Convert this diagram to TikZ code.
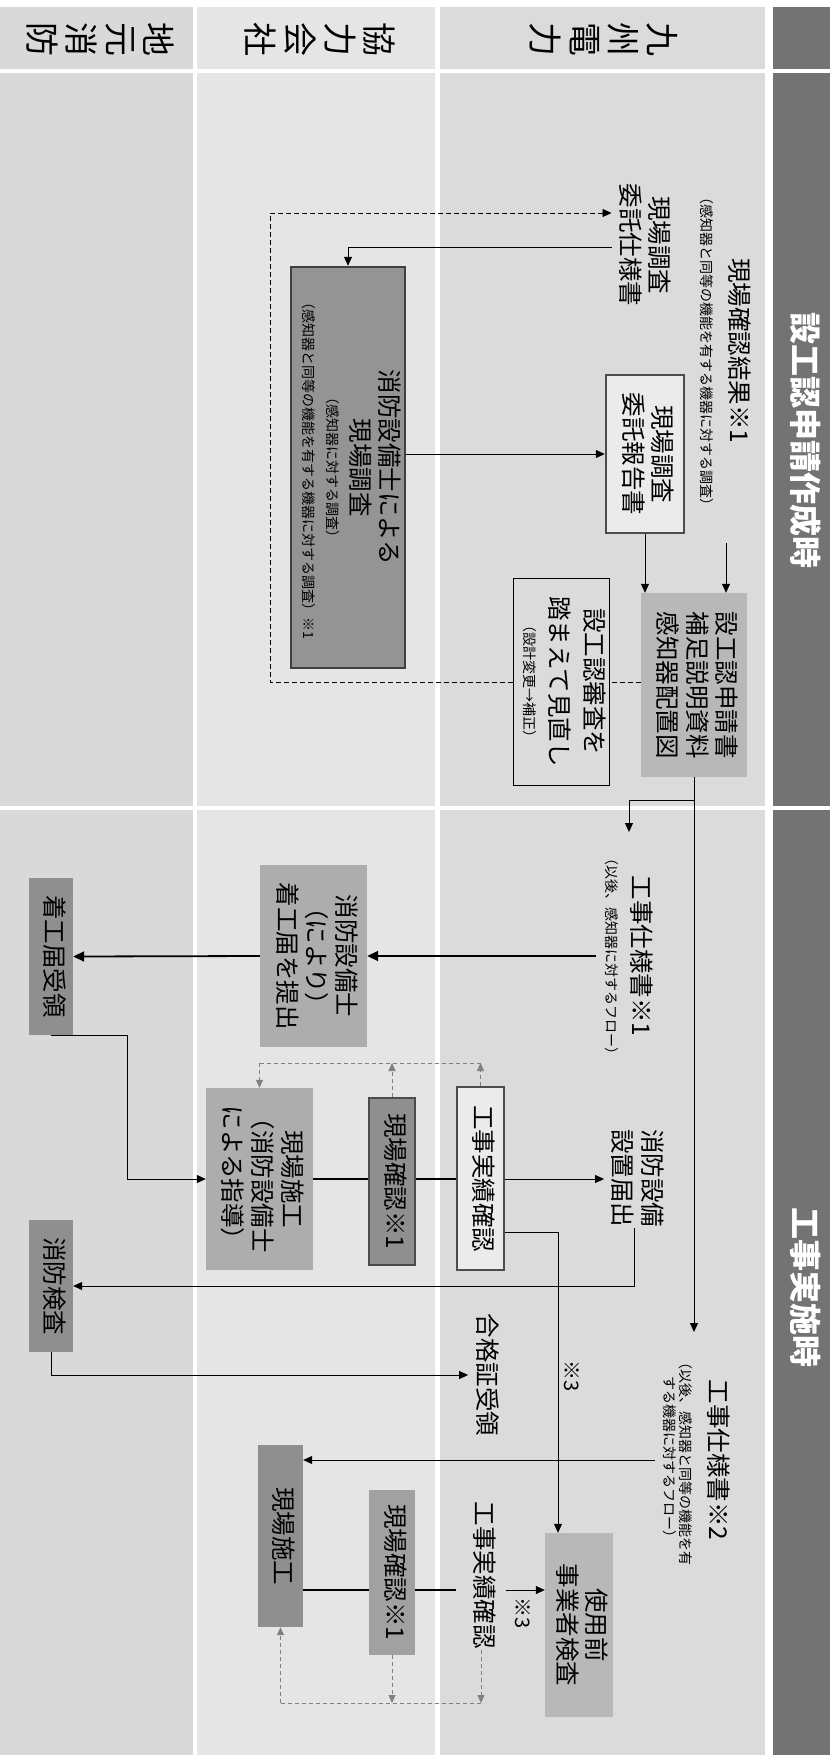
\documentclass[tikz,border=0pt]{standalone}
\usepackage{fontspec}
\setmainfont{Noto Sans CJK JP}
\usetikzlibrary{arrows.meta}
\definecolor{lanea}{gray}{0.86}
\definecolor{laneb}{gray}{0.90}
\definecolor{lanec}{gray}{0.85}
\definecolor{headc}{gray}{0.45}
\definecolor{boxa}{gray}{0.72}
\definecolor{boxb}{gray}{0.68}
\definecolor{boxc}{gray}{0.63}
\definecolor{boxd}{gray}{0.56}
\definecolor{lightc}{gray}{0.92}
\newcommand{\rt}[1]{\rotatebox{-90}{\begin{tabular}{@{}c@{}}#1\end{tabular}}}
\newcommand{\sm}{\fontsize{14}{16}\selectfont}
\begin{document}
\begin{tikzpicture}[x=1pt,y=-1pt,font=\fontsize{24.5}{29}\selectfont]
\tikzstyle{txt}=[inner sep=1pt]
\tikzstyle{gbox}=[inner sep=0pt]
\tikzstyle{kbox}=[draw=black!70,line width=2.5pt,inner sep=0pt]
\tikzstyle{tbox}=[draw,line width=0.8pt,inner sep=0pt]
\tikzstyle{lanelbl}=[font=\fontsize{34}{37}\selectfont]
\tikzstyle{head}=[text=white,font=\fontsize{32}{36}\selectfont\bfseries]
\tikzstyle{arr}=[line width=0.8pt,-{Triangle[length=9pt,width=8pt]}]
\tikzstyle{tarr}=[line width=1.8pt,-{Triangle[length=11pt,width=10pt]}]
\tikzstyle{ln}=[line width=1.2pt]
\tikzstyle{dsh}=[line width=0.8pt,dash pattern=on 5pt off 3pt]
\tikzstyle{gdash}=[gray,line width=0.8pt,dash pattern=on 4pt off 3pt]
\tikzstyle{gfb}=[gdash,-{Triangle[length=8pt,width=7pt]}]
\useasboundingbox (0,0) rectangle (830,1758);

% lanes
\foreach \xa/\xb/\c in {0/193/lanec,197/435/laneb,440/765/lanea}{
  \fill[\c] (\xa,7) rectangle (\xb,69);
  \fill[\c] (\xa,73) rectangle (\xb,806);
  \fill[\c] (\xa,810) rectangle (\xb,1755);
}
\fill[headc] (773,7) rectangle (830,69);
\fill[headc] (773,73) rectangle (830,806);
\fill[headc] (773,810) rectangle (830,1755);
\node[head] (ph1) at (802,440) {\rt{設工認申請作成時}};
\node[head] (ph2) at (802,1287) {\rt{工事実施時}};
\node[lanelbl] (kyuden) at (600,40) {\rt{九\\州\\電\\力}};
\node[lanelbl] (kyoryoku) at (316,40) {\rt{協\\力\\会\\社}};
\node[lanelbl] (chiiki) at (96,40) {\rt{地\\元\\消\\防}};

% 設工認申請作成時
\node[txt] (kekka) at (722,351) {\rt{現場確認結果※1\\\sm （感知器と同等の機能を有する機器に対する調査）}};
\node[txt] (ishiyo) at (642,245) {\rt{現場調査\\委託仕様書}};
\node[kbox,fill=black!42,draw=black!75,minimum width=114pt,minimum height=401pt] (chosa) at (348,467.5)
  {\rt{消防設備士による\\現場調査\\[-5pt]\sm （感知器に対する調査）\\[-5pt]\sm （感知器と同等の機能を有する機器に対する調査）※1}};
\node[kbox,fill=lightc,minimum width=78pt,minimum height=158pt] (hokoku) at (645,454) {\rt{現場調査\\委託報告書}};
\node[gbox,fill=boxa,minimum width=106pt,minimum height=184pt] (shinsei) at (694,685) {\rt{設工認申請書\\補足説明資料\\感知器配置図}};
\node[tbox,minimum width=96pt,minimum height=207pt] (minaoshi) at (561,681.5)
  {\rt{設工認審査を\\[5pt]踏まえて見直し\\[-3pt]\sm （設計変更→補正）}};

\coordinate (dy) at (0,682);
\coordinate (lp) at (270,213);
\coordinate (sy) at (0,247);
\coordinate (k0) at (726,543);
\draw[dsh] (shinsei.west |- dy) -- (minaoshi.east |- dy);
\draw[dsh,-{Triangle[length=9pt,width=8pt]}] (minaoshi.west |- dy) -| (lp) -- (ishiyo.west |- lp);
\draw[arr] (ishiyo.west |- sy) -| (chosa.north);
\draw[arr] (chosa.east |- hokoku.west) -- (hokoku.west);
\draw[arr] (hokoku.south) -- (hokoku.south |- shinsei.north);
\draw[arr] (k0) -- (k0 |- shinsei.north);

% 工事実施時
\node[txt] (shiyo1) at (625,956) {\rt{工事仕様書※1\\[-3pt]\sm （以後、感知器に対するフロー）}};
\node[gbox,fill=boxb,minimum width=107pt,minimum height=182pt] (teishutsu) at (313.5,956) {\rt{消防設備士\\（により）\\着工届を提出}};
\node[gbox,fill=boxd,minimum width=44pt,minimum height=157pt] (juryo) at (51,956.5) {\rt{着工届受領}};
\node[gbox,fill=boxb,minimum width=107pt,minimum height=182pt] (genba1) at (259.5,1179) {\rt{現場施工\\（消防設備士\\による指導）}};
\node[kbox,fill=boxd,minimum width=46pt,minimum height=167pt] (kakunin1) at (392,1181.5) {\rt{現場確認※1}};
\node[kbox,fill=lightc,minimum width=47pt,minimum height=183pt] (jisseki1) at (480.5,1178.5) {\rt{工事実績確認}};
\node[txt] (todoke) at (634.5,1178) {\rt{消防設備\\設置届出}};
\node[gbox,fill=boxd,minimum width=44pt,minimum height=132pt] (kensa) at (51,1286) {\rt{消防検査}};
\node[txt] (gokaku) at (484,1375) {\rt{合格証受領}};
\node[txt,font=\fontsize{20}{24}\selectfont] (kome3a) at (569,1376) {\rt{※3}};
\node[txt] (shiyo2) at (693,1460) {\rt{工事仕様書※2\\\sm （以後、感知器と同等の機能を有\\[-13pt]\sm する機器に対するフロー）}};
\node[gbox,fill=boxd,minimum width=45pt,minimum height=182pt] (genba2) at (280.5,1536) {\rt{現場施工}};
\node[gbox,fill=boxc,minimum width=46pt,minimum height=165pt] (kakunin2) at (392,1572.5) {\rt{現場確認※1}};
\node[txt,inner xsep=10pt] (jisseki2) at (481,1575) {\rt{工事実績確認}};
\node[gbox,fill=boxa,minimum width=68pt,minimum height=184pt] (use) at (579,1625) {\rt{使用前\\事業者検査}};
\node[txt,font=\fontsize{20}{24}\selectfont] (kome3b) at (520,1613) {\rt{※3}};

\coordinate (br) at (0,800);
\coordinate (s1) at (629,832);
\coordinate (s2) at (0,1332);
\coordinate (s3) at (558,1232);
\coordinate (g1) at (0,1063);
\coordinate (g2) at (0,1703);
\coordinate (r2) at (0,1590);
\draw[arr] (shinsei.south) -- (shinsei.south |- s2);
\draw[arr] (shinsei.south |- br) -| (s1);
\draw[tarr] (shiyo1.west |- teishutsu.east) -- (teishutsu.east);
\draw[tarr] (teishutsu.west) -- (juryo.east);
\draw[arr] (juryo.south) -- ++(76,0) |- (genba1.west);
\draw[ln] (genba1.east) -- (kakunin1.west |- genba1.east);
\draw[ln] (kakunin1.east |- genba1.east) -- (jisseki1.west |- genba1.east);
\draw[arr] (jisseki1.east |- genba1.east) -- (todoke.west |- genba1.east);
\draw[gfb] (jisseki1.north) -- (jisseki1.north |- g1);
\draw[gfb] (kakunin1.north) -- (kakunin1.north |- g1);
\draw[gdash] (jisseki1.north |- g1) -- (genba1.north |- g1);
\draw[gfb] (genba1.north |- g1) -- (genba1.north);
\draw[arr] (jisseki1.east |- s3) -- (s3) -- (s3 |- use.north);
\draw[arr] (todoke.south) |- (kensa.east);
\draw[arr] (kensa.south) |- (gokaku.west);
\draw[arr] (shiyo2.west) -- (genba2.east |- shiyo2.west);
\draw[ln] (genba2.east |- r2) -- (kakunin2.west |- r2);
\draw[ln] (kakunin2.east |- r2) -- (jisseki2.west |- r2);
\draw[arr] (jisseki2.east |- r2) -- (use.west |- r2);
\draw[gfb] (kakunin2.south) -- (kakunin2.south |- g2);
\draw[gfb] (jisseki2.south) -- (jisseki2.south |- g2);
\draw[gdash] (jisseki2.south |- g2) -- (genba2.south |- g2);
\draw[gfb] (genba2.south |- g2) -- (genba2.south);
\end{tikzpicture}
\end{document}
